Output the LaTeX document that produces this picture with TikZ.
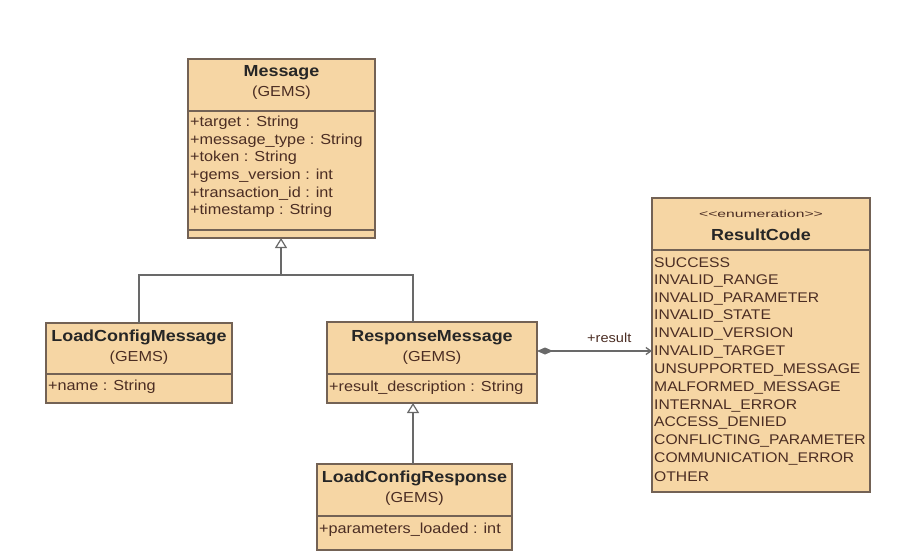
\documentclass[tikz,border=0pt]{standalone}
\usepackage{fontspec}
\setmainfont{Liberation Sans}[FakeStretch=1.12]
\usetikzlibrary{arrows.meta,calc}
\definecolor{boxfill}{RGB}{246,214,164}
\definecolor{boxline}{RGB}{115,98,85}
\definecolor{txt}{RGB}{75,45,35}
\definecolor{conn}{RGB}{105,105,105}
\begin{document}
\begin{tikzpicture}[x=1pt,y=-1pt,
 umlbox/.style={draw=boxline,line width=1.3pt,fill=boxfill,inner sep=0,outer sep=0,anchor=north west},
 sepline/.style={draw=boxline,line width=1.1pt},
 title/.style={font=\fontsize{16}{18}\selectfont\bfseries,text=black!85,inner sep=0},
 pkg/.style={font=\fontsize{14.5}{17}\selectfont,text=txt,inner sep=0},
 attr/.style={font=\fontsize{14.5}{17}\selectfont,text=txt,anchor=west,inner sep=0},
 enumitem/.style={font=\fontsize{14}{17}\selectfont,text=txt,anchor=west,inner sep=0},
 stereo/.style={font=\fontsize{10}{12}\selectfont,text=txt,inner sep=0},
 gen/.style={draw=conn,line width=1.4pt,-{Triangle[open,length=10pt,width=12pt,line width=1.2pt]}},
 plain/.style={draw=conn,line width=1.4pt},
 assoc/.style={draw=conn,line width=1.3pt,{Diamond[length=16pt,width=7pt]}-{Straight Barb[length=5pt,width=7pt]}},
]
\useasboundingbox[fill=white] (0,0) rectangle (909,552);

% Message
\node[umlbox,minimum width=187pt,minimum height=179pt] (msg) at (188,59) {};
\draw[sepline] (188,111) -- (375,111);
\draw[sepline] (188,230) -- (375,230);
\node[title] (msgT) at (281.5,73) {Message};
\node[pkg] (msgP) at (281.5,93) {(GEMS)};
\node[attr] (m1) at (190,123) {+target : String};
\node[attr] (m2) at (190,140.6) {+message\_type : String};
\node[attr] (m3) at (190,158.2) {+token : String};
\node[attr] (m4) at (190,175.8) {+gems\_version : int};
\node[attr] (m5) at (190,193.4) {+transaction\_id : int};
\node[attr] (m6) at (190,211) {+timestamp : String};

% LoadConfigMessage
\node[umlbox,minimum width=186pt,minimum height=80pt] (lcm) at (46,323) {};
\draw[sepline] (46,374) -- (232,374);
\node[title] (lcmT) at (139,337) {LoadConfigMessage};
\node[pkg] (lcmP) at (139,358) {(GEMS)};
\node[attr] (lcm1) at (48,387) {+name : String};

% ResponseMessage
\node[umlbox,minimum width=210pt,minimum height=81pt] (rm) at (327,322) {};
\draw[sepline] (327,374) -- (537,374);
\node[title] (rmT) at (432,338) {ResponseMessage};
\node[pkg] (rmP) at (432,358) {(GEMS)};
\node[attr] (rm1) at (329,388) {+result\_description : String};

% LoadConfigResponse
\node[umlbox,minimum width=195pt,minimum height=86pt] (lcr) at (317,464) {};
\draw[sepline] (317,516) -- (512,516);
\node[title] (lcrT) at (414.5,478) {LoadConfigResponse};
\node[pkg] (lcrP) at (414.5,499) {(GEMS)};
\node[attr] (lcr1) at (319,530) {+parameters\_loaded : int};

% ResultCode
\node[umlbox,minimum width=218pt,minimum height=294pt] (rc) at (652,198) {};
\draw[sepline] (652,250) -- (870,250);
\node[stereo] (rcS) at (761,214) {\scalebox{1.4}[1]{{<}{<}enumeration{>}{>}}};
\node[title] (rcT) at (761,235) {ResultCode};
\foreach \t [count=\i from 0] in {SUCCESS,INVALID\_RANGE,INVALID\_PARAMETER,INVALID\_STATE,INVALID\_VERSION,INVALID\_TARGET,UNSUPPORTED\_MESSAGE,MALFORMED\_MESSAGE,INTERNAL\_ERROR,ACCESS\_DENIED,CONFLICTING\_PARAMETER,COMMUNICATION\_ERROR,OTHER}
  \node[enumitem] (rc\i) at (654,263+17.83*\i) {\t};

% generalizations
\coordinate (hub) at (281,275);
\coordinate (lcmTop) at (139,275);
\coordinate (rmTop) at (413,275);
\draw[plain] (lcm.north -| lcmTop) -- (lcmTop) -- (rmTop) -- (rm.north -| rmTop);
\draw[gen] (hub) -- (msg.south -| hub);
\coordinate (rmGen) at (413,403);
\draw[gen] (lcr.north -| rmGen) -- (rm.south -| rmGen);

% association
\coordinate (aY) at (0,351);
\draw[assoc] (rm.east |- aY) -- (rc.west |- aY);
\node[attr,font=\fontsize{13}{15}\selectfont] (res) at (587,338) {+result};
\end{tikzpicture}
\end{document}
